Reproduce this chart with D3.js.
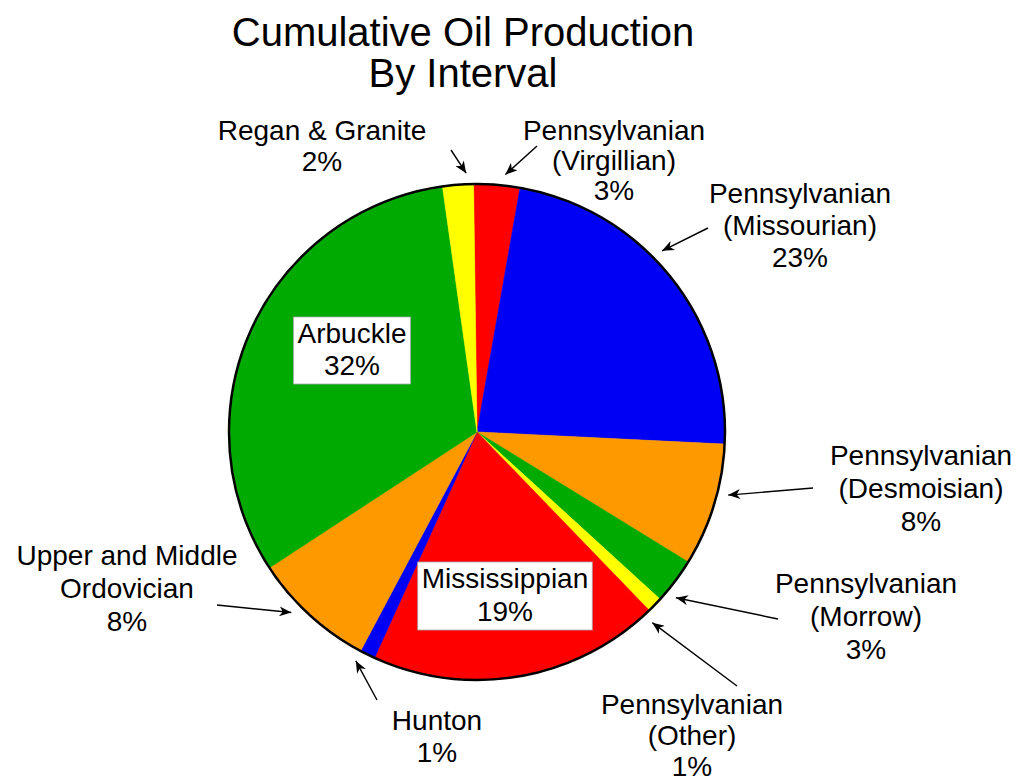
<!DOCTYPE html>
<html>
<head>
<meta charset="utf-8">
<script src="https://cdn.jsdelivr.net/npm/d3@7"></script>
<style>
  html, body { margin: 0; padding: 0; background: #fff; }
  text { font-family: "Liberation Sans", Arial, Helvetica, sans-serif; fill: #000; }
</style>
</head>
<body>
<svg id="chart" width="1016" height="784"></svg>
<script>
// Production intervals, clockwise from the top of the pie
const intervals = [
  "Pennsylvanian (Virgillian)",
  "Pennsylvanian (Missourian)",
  "Pennsylvanian (Desmoisian)",
  "Pennsylvanian (Morrow)",
  "Pennsylvanian (Other)",
  "Mississippian",
  "Hunton",
  "Upper and Middle Ordovician",
  "Arbuckle",
  "Regan & Granite"
];

// Share of cumulative oil production, percent
const shares = [3, 23, 8, 3, 1, 19, 1, 8, 32, 2];

// Label text as it is broken over lines
const labelLines = [
  ["Pennsylvanian", "(Virgillian)"],
  ["Pennsylvanian", "(Missourian)"],
  ["Pennsylvanian", "(Desmoisian)"],
  ["Pennsylvanian", "(Morrow)"],
  ["Pennsylvanian", "(Other)"],
  ["Mississippian"],
  ["Hunton"],
  ["Upper and Middle", "Ordovician"],
  ["Arbuckle"],
  ["Regan & Granite"]
];

const titleLines = ["Cumulative Oil Production", "By Interval"];

const sliceColors = ["#ff0000", "#0000f4", "#ff9900", "#00aa00", "#ffff00",
                     "#ff0000", "#0000f4", "#ff9900", "#00aa00", "#ffff00"];

// Where each label sits, where its arrow starts, and a small turn of the arrow tip
const labelLayout = [
  { x: 614, y: 140, lh: 30, tail: [537, 146], turn: 1.7 },
  { x: 800, y: 203, lh: 32, tail: [708, 228], turn: -5.8 },
  { x: 921, y: 465, lh: 33, tail: [813, 488], turn: -3.1 },
  { x: 866, y: 593, lh: 33, tail: [778, 619], turn: 2.8 },
  { x: 692, y: 714, lh: 31, tail: [737, 686], turn: 3.2 },
  { x: 505, y: 588, lh: 33, boxed: true },
  { x: 437, y: 730, lh: 32, tail: [377, 700], turn: 1.7 },
  { x: 127, y: 565, lh: 33, tail: [217, 605], turn: 3.4 },
  { x: 352, y: 343, lh: 32, boxed: true },
  { x: 322, y: 140, lh: 31, tail: [451, 150], turn: 2.0 }
];

const cx = 477, cy = 432, radius = 248;
const rotation = -0.8 * Math.PI / 180;
const deg = Math.PI / 180;

const svg = d3.select("#chart");

// Title
svg.append("g")
  .selectAll("text")
  .data(titleLines)
  .join("text")
  .attr("x", 463)
  .attr("y", (d, i) => 46 + i * 41)
  .attr("text-anchor", "middle")
  .attr("font-size", 40)
  .text(d => d);

// Pie
const rows = intervals.map((name, i) => ({
  name, share: shares[i], color: sliceColors[i], lines: labelLines[i], layout: labelLayout[i]
}));

const pie = d3.pie()
  .sort(null)
  .value(d => d.share)
  .startAngle(rotation)
  .endAngle(rotation + 2 * Math.PI);

const arcs = pie(rows);
const arc = d3.arc().innerRadius(0).outerRadius(radius);

const pieG = svg.append("g").attr("transform", `translate(${cx},${cy})`);

pieG.selectAll("path")
  .data(arcs)
  .join("path")
  .attr("d", arc)
  .attr("fill", d => d.data.color)
  .attr("stroke", d => d.data.color)
  .attr("stroke-width", 0.6);

pieG.append("circle")
  .attr("r", radius)
  .attr("fill", "none")
  .attr("stroke", "#000")
  .attr("stroke-width", 2.5);

// Arrowhead
svg.append("defs").append("marker")
  .attr("id", "head")
  .attr("viewBox", "0 0 12 10")
  .attr("refX", 12)
  .attr("refY", 5)
  .attr("markerWidth", 13)
  .attr("markerHeight", 10)
  .attr("markerUnits", "userSpaceOnUse")
  .attr("orient", "auto")
  .append("path")
  .attr("d", "M0,0 L12,5 L0,10 L3.5,5 Z")
  .attr("fill", "#000");

// Leader arrows from labels to their slices
const pointed = arcs.filter(d => d.data.layout.tail);
svg.append("g")
  .selectAll("line")
  .data(pointed)
  .join("line")
  .attr("x1", d => d.data.layout.tail[0])
  .attr("y1", d => d.data.layout.tail[1])
  .attr("x2", d => cx + (radius + 11) * Math.sin((d.startAngle + d.endAngle) / 2 + d.data.layout.turn * deg))
  .attr("y2", d => cy - (radius + 11) * Math.cos((d.startAngle + d.endAngle) / 2 + d.data.layout.turn * deg))
  .attr("stroke", "#000")
  .attr("stroke-width", 1.4)
  .attr("marker-end", "url(#head)");

// Labels
const labelG = svg.append("g")
  .selectAll("g")
  .data(arcs)
  .join("g");

labelG.each(function(d) {
  const g = d3.select(this);
  const L = d.data.layout;
  const lines = d.data.lines.concat([d.data.share + "%"]);
  const box = L.boxed ? g.append("rect").attr("fill", "#fff").attr("stroke", "#aaa").attr("stroke-width", 0.8) : null;
  const t = g.append("text")
    .attr("text-anchor", "middle")
    .attr("font-size", 28);
  lines.forEach((s, i) => {
    t.append("tspan").attr("x", L.x).attr("y", L.y + i * L.lh).text(s);
  });
  if (box) {
    const b = t.node().getBBox();
    box.attr("x", b.x - 4).attr("y", b.y - 1)
       .attr("width", b.width + 8).attr("height", b.height + 4);
  }
});
</script>
</body>
</html>
